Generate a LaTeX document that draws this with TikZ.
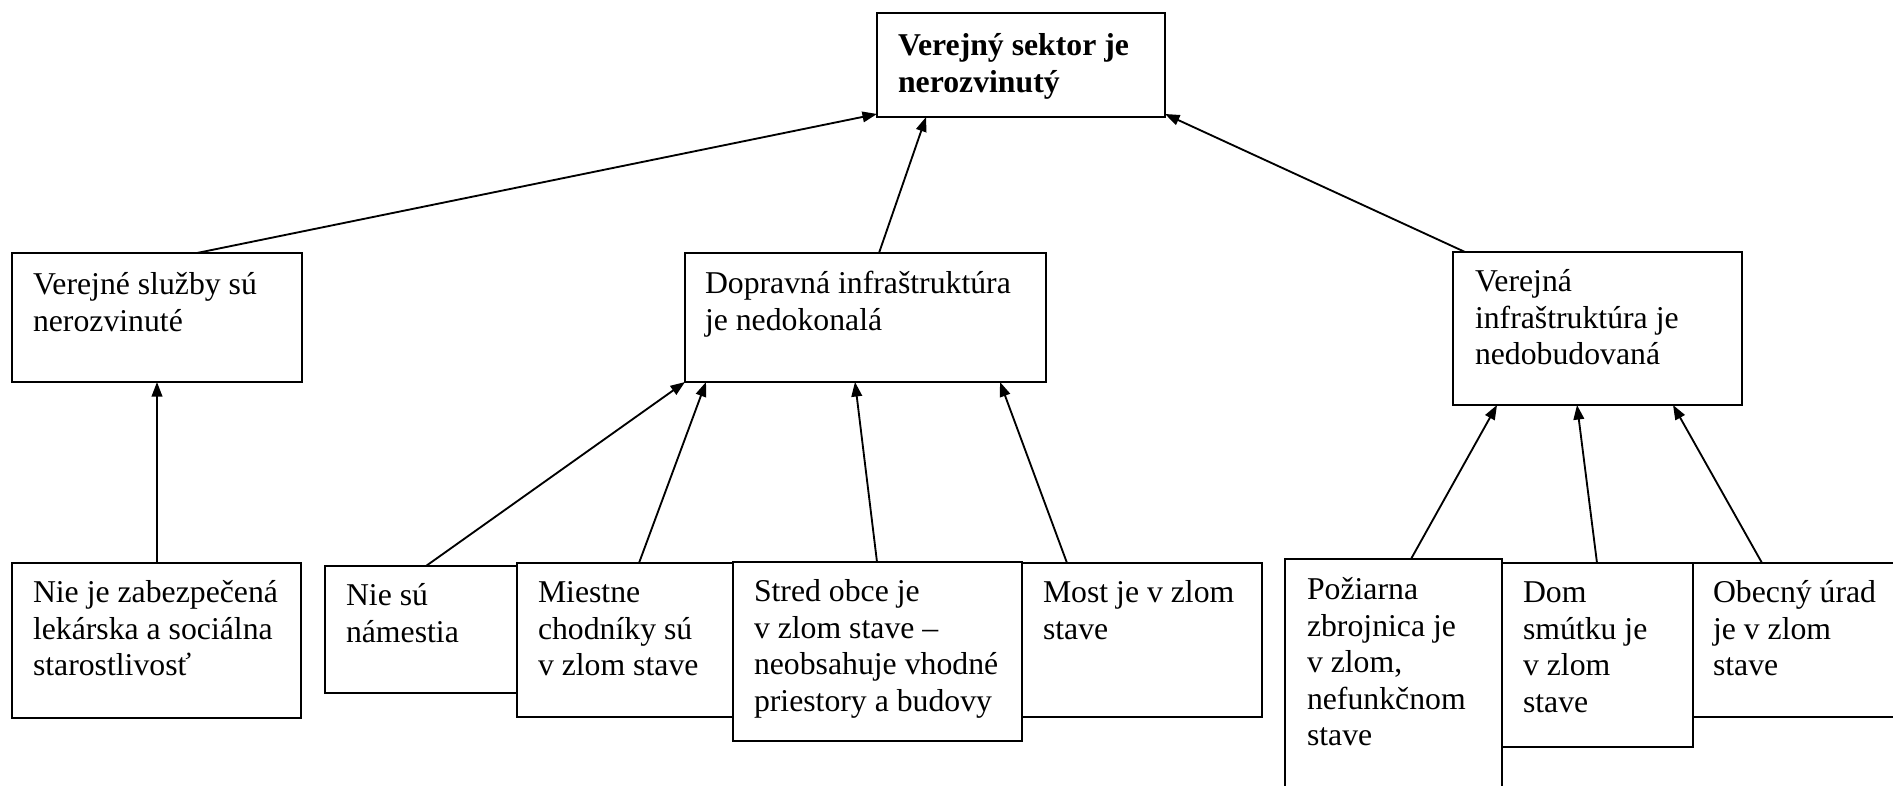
\documentclass[tikz,border=0pt]{standalone}
\usepackage{fontspec}
\setmainfont{Liberation Serif}
\usetikzlibrary{arrows.meta,calc,fit}
\begin{document}
\begin{tikzpicture}[x=0.378pt,y=-0.378pt,
  box/.style={draw,line width=0.8pt,fill=white,inner sep=0pt,outer sep=0pt},
  lbl/.style={anchor=north west,inner sep=0pt,outer sep=0pt,align=left,font=\fontsize{12pt}{13.8pt}\selectfont},
  link/.style={line width=0.7pt,-{Triangle[length=5.5pt,width=4pt]}}]
\useasboundingbox (0,0) rectangle (1893,786);
\clip (0,0) rectangle (1893,786);

% boxes
\node[box,fit={(877,13) (1165,117)}] (T) {};
\node[box,fit={(12,253) (302,382)}] (vs) {};
\node[box,fit={(685,253) (1046,382)}] (dop) {};
\node[box,fit={(1453,252) (1742,405)}] (vi) {};
\node[box,fit={(12,563) (301,718)}] (b1) {};
\node[box,fit={(325,566) (517,693)}] (b2) {};
\node[box,fit={(517,563) (733,717)}] (b3) {};
\node[box,fit={(1022,563) (1262,717)}] (b5) {};
\node[box,fit={(733,562) (1022,741)}] (b4) {};
\node[box,fit={(1285,559) (1502,820)}] (b6) {};
\node[box,fit={(1502,563) (1693,747)}] (b7) {};
\node[box,fit={(1693,563) (1920,717)}] (b8) {};

% texts
\node[lbl,font=\fontsize{12pt}{13.8pt}\selectfont\bfseries] (tT) at ($(T.north west)+(21,17)$) {\strut Verejný sektor je\\nerozvinutý};
\node[lbl] (tvs) at ($(vs.north west)+(21,16)$) {\strut Verejné služby sú\\nerozvinuté};
\node[lbl] (tdop) at ($(dop.north west)+(20,15)$) {\strut Dopravná infraštruktúra\\je nedokonalá};
\node[lbl] (tvi) at ($(vi.north west)+(22,14)$) {\strut Verejná\\infraštruktúra je\\nedobudovaná};
\node[lbl] (tb1) at ($(b1.north west)+(21,14)$) {\strut Nie je zabezpečená\\lekárska a sociálna\\starostlivosť};
\node[lbl] (tb2) at ($(b2.north west)+(21,14)$) {\strut Nie sú\\námestia};
\node[lbl] (tb3) at ($(b3.north west)+(21,14)$) {\strut Miestne\\chodníky sú\\v zlom stave};
\node[lbl] (tb4) at ($(b4.north west)+(21,14)$) {\strut Stred obce je\\v zlom stave --\\neobsahuje vhodné\\priestory a budovy};
\node[lbl] (tb5) at ($(b5.north west)+(21,14)$) {\strut Most je v zlom\\stave};
\node[lbl] (tb6) at ($(b6.north west)+(22,15)$) {\strut Požiarna\\zbrojnica je\\v zlom,\\nefunkčnom\\stave};
\node[lbl] (tb7) at ($(b7.north west)+(21,14)$) {\strut Dom\\smútku je\\v zlom\\stave};
\node[lbl] (tb8) at ($(b8.north west)+(20,14)$) {\strut Obecný úrad\\je v zlom\\stave};

% connectors
\draw[link] ($(vs.north west)+(185,0)$) -- ($(T.south west)+(0,-3)$);
\draw[link] ($(dop.north west)+(194,0)$) -- ($(T.south west)+(49,0)$);
\draw[link] ($(vi.north west)+(12,0)$) -- ($(T.south east)+(0,-3)$);
\draw[link] ($(b1.north west)+(145,0)$) -- ($(vs.south west)+(145,0)$);
\draw[link] ($(b2.north west)+(101,0)$) -- (dop.south west);
\draw[link] ($(b3.north west)+(122,0)$) -- ($(dop.south west)+(21,0)$);
\draw[link] ($(b4.north west)+(144,0)$) -- ($(dop.south west)+(170,0)$);
\draw[link] ($(b5.north west)+(45,0)$) -- ($(dop.south west)+(315,0)$);
\draw[link] ($(b6.north west)+(126,0)$) -- ($(vi.south west)+(44,0)$);
\draw[link] ($(b7.north west)+(95,0)$) -- ($(vi.south west)+(124,0)$);
\draw[link] ($(b8.north west)+(69,0)$) -- ($(vi.south west)+(220,0)$);
\end{tikzpicture}
\end{document}
